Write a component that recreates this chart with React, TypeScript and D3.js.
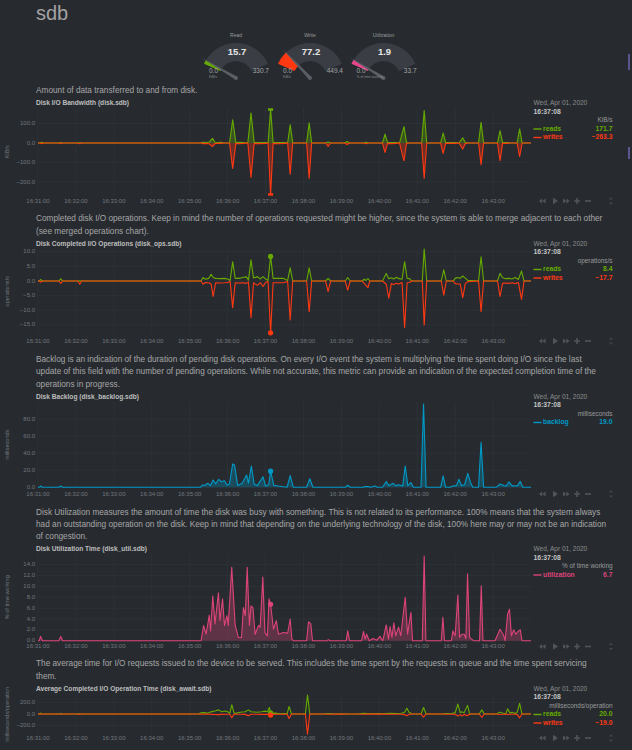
import React, { useEffect } from "react";
import * as d3 from "d3";

const FONT = "'Liberation Sans', Arial, Helvetica, sans-serif";
const BG = "#272b30";
const GREEN = "#66aa00";
const RED = "#fe3912";
const BLUE = "#0099c6";
const PINK = "#dd4477";

// seconds after 16:31:00
const START = new Date(2020, 3, 1, 16, 31, 0).getTime();
const END_SEC = 780;
const HOVER_SEC = 368;

// --- Disk I/O Bandwidth (KiB/s)
const bwTime = [
  0, 3, 6, 9, 33, 36, 39, 63, 66, 69,
  258, 261, 266, 271, 276, 280, 285, 290, 294,
  303, 308, 313, 318, 325, 332, 337, 342, 352, 360, 364,
  368, 372, 380, 390, 395, 399, 403, 425, 429, 433,
  455, 459, 463, 485, 489, 493, 515, 519, 523,
  545, 549, 553, 560, 566, 572, 579, 583, 587, 607, 611, 615,
  637, 641, 645, 652, 660, 666, 672, 676, 680, 697, 701, 705,
  727, 731, 735, 742, 748, 758, 762, 766, 780,
];
const bwReads = [
  0, 0, 4, 0, 0, 3, 0, 0, 1, 0,
  0, 4, 3, 5, 24, 4, 3, 4, 0,
  0, 119, 2, 4, 3, 0, 154, 3, 3, 2, 0,
  171.7, 3, 3, 2, 0, 94, 0, 0, 103, 0,
  0, 5, 0, 0, 8, 0, 0, 4, 0,
  0, 46, 3, 3, 2, 0, 84, 3, 0, 0, 166, 0,
  0, 51, 3, 3, 3, 0, 27, 3, 0, 0, 106, 0,
  0, 63, 3, 3, 0, 0, 72, 0, 0,
];
const bwWrites = [
  0, 0, -3, 0, 0, -2, 0, 0, -4, 0,
  0, -3, -2, -4, -18, -3, -2, -2, 0,
  0, -130, -2, -3, -2, 0, -176, -2, -3, -2, 0,
  -263.3, -2, -3, -2, 0, -160, 0, 0, -181, 0,
  0, -17, 0, 0, -8, 0, 0, -4, 0,
  0, -48, -2, -3, -2, 0, -91, -2, 0, 0, -181, 0,
  0, -53, -2, -2, -2, 0, -31, -3, 0, 0, -111, 0,
  0, -91, -2, -2, 0, 0, -69, 0, 0,
];

// --- Disk Completed I/O Operations (operations/s)
const opsTime = [
  0, 2, 4, 7, 33, 36, 39, 63, 66, 69,
  258, 261, 265, 270, 274, 277, 281, 288, 295, 300, 304,
  308, 312, 318, 324, 330, 333,
  337, 341, 347, 352, 356, 360, 364,
  368, 372, 380, 388, 395, 399, 403,
  425, 429, 433, 455, 459, 463, 486, 490, 494,
  513, 516, 519, 522, 525,
  545, 551, 555, 559, 563, 567, 571, 576, 580, 584, 588, 591,
  608, 611, 615, 638, 642, 646,
  657, 660, 664, 668, 672, 676, 680, 697, 701, 705,
  727, 731, 735, 740, 745, 750, 755, 760, 765, 769, 780,
];
const opsReads = [
  0, 0, 0.5, 0, 0, 0.7, 0, 0, 0.1, 0,
  0, 1.2, 0.6, 0.9, 2.3, 1.2, 0.9, 0.8, 0.9, 0.7, 0.2,
  6.6, 0.9, 0.9, 1.2, 1.4, 0.3,
  7.2, 1.0, 1.5, 0.7, 1.5, 0.7, 0.2,
  8.4, 0.9, 0.9, 0.9, 0.2, 4.5, 0,
  0, 4.5, 0, 0, 0.9, 0, 0, 1.2, 0,
  0, 0.6, 0.2, 0.8, 0,
  0, 2.6, 0.8, 1.1, 0.7, 1.3, 0.8, 0.6, 6.6, 0.9, 0.8, 0,
  0, 10.9, 0, 0, 3.8, 0,
  0, 0.9, 1.2, 0.9, 1.7, 1.0, 0.2, 0, 8.3, 0,
  0, 2.6, 1.1, 0.8, 0.9, 0.7, 1.2, 0.5, 3.4, 0, 0,
];
const opsWrites = [
  0, 0, -0.4, 0, 0, -0.8, 0, 0, -1.1, 0,
  0, -1.1, -0.5, -0.6, -1.0, -5.3, -0.6, -0.7, -0.6, -0.5, -0.2,
  -9.1, -0.6, -0.7, -0.6, -0.8, -0.3,
  -12.5, -0.6, -1.5, -0.6, -1.9, -0.5, -0.2,
  -17.7, -0.6, -0.6, -0.6, -0.2, -13.3, 0,
  0, -10.5, 0, 0, -3.6, 0, 0, -3.1, 0,
  0, -0.8, -1.5, -2.3, 0,
  0, -1.1, -5.9, -0.9, -1.2, -0.8, -1.0, -0.5, -15.9, -0.6, -0.5, 0,
  0, -15, 0, 0, -4.8, 0,
  0, -0.9, -1.0, -1.0, -5.7, -0.9, -0.2, 0, -10.5, 0,
  0, -5.3, -0.8, -0.7, -0.8, -0.6, -0.9, -0.5, -6.3, 0, 0,
];

// --- Disk Backlog (milliseconds)
const blTime = [
  0, 2, 4, 7, 33, 36, 39,
  257, 260, 264, 269, 273, 277, 281, 286, 290, 295,
  299, 303, 308, 311, 316, 323, 330, 333, 337.5, 342,
  347, 356, 360, 365, 368, 373, 380, 394, 399, 404,
  425, 430, 435, 486, 490, 494, 515, 517, 522, 527,
  533, 537, 545, 551, 555, 562, 566, 571, 577, 581,
  585, 590, 594, 606, 610, 614, 637, 641, 645, 652,
  656, 662, 666, 670, 675, 680, 684, 688, 697, 701,
  705, 725, 731, 737, 741, 745, 750, 755, 759, 763,
  767, 780,
];
const blValue = [
  0, 0, 1.5, 0, 0, 1.5, 0,
  0, 2.7, 2.5, 4.7, 2, 8.6, 4, 9.4, 6.7, 7.8,
  2.7, 4, 27.5, 26, 2, 4.7, 14.5, 5, 25, 4,
  2, 12.5, 1.5, 3, 19, 2.5, 1.5, 0, 13.7, 0,
  0, 10.2, 0, 0, 2.4, 0, 0, 1, 0.8, 0,
  1.5, 0, 0, 6.7, 2, 4.7, 2, 3, 1.5, 25,
  2, 5.5, 0, 0, 98, 0, 0, 13.3, 0, 0,
  1.5, 2, 9.4, 2, 3, 16.5, 6, 0, 0, 53,
  0, 0, 3.9, 2, 1.5, 6.3, 2, 1.5, 2, 7,
  0, 0,
];

// --- Disk Utilization Time (% of time working)
const utTime = [
  0, 2, 4, 7, 33, 36, 39,
  258, 262, 266, 271, 273, 276.5, 280, 285.5, 288, 292,
  295, 299, 301, 306.5, 312, 317, 322, 325, 328, 331,
  334.5, 337, 340, 343.5, 349, 351.5, 355.7, 359, 363, 365.5,
  368, 372.5, 377, 380.5, 388, 395, 399, 401.6, 404,
  425, 428, 431.6, 434.3, 457, 459.6, 462, 487.6, 490, 493,
  512, 515, 517.6, 520, 524, 530, 536, 541, 545.6, 551,
  554.6, 557, 560, 563, 566, 570.4, 574, 581, 584.7, 590,
  592.6, 608, 611, 613.7, 638, 640.6, 643, 654, 656.4, 660,
  664.3, 667, 670.7, 674.4, 677, 679.6, 682.8, 689, 698.6, 701.3,
  704, 723, 731, 736.6, 739, 743, 746, 749, 752.5, 756,
  760.4, 763, 765.7, 780,
];
const utValue = [
  0, 0, 0.8, 0, 0, 0.8, 0,
  0, 2.8, 1.2, 4.7, 1.8, 8.2, 3.1, 8.8, 3.7, 7.7,
  2.8, 4.6, 2.8, 13.5, 2.8, 0.6, 0.6, 6.1, 4.6, 13.5,
  2.8, 6.4, 6.1, 1.2, 2.8, 2.5, 11.7, 1.5, 0.9, 7.7,
  6.7, 2.1, 3.7, 1.2, 1.5, 1.4, 4.0, 0.3, 0,
  0, 3.5, 3.1, 0, 0, 0.2, 0, 0, 1.8, 0,
  0, 1.7, 0.3, 1.2, 0, 0.4, 0.1, 0.8, 0, 2.9,
  0.3, 2.6, 0.6, 3.3, 0.9, 2.5, 0.9, 8.0, 1.2, 5.2,
  0, 0, 15.6, 0, 0, 4.3, 0, 0, 1.8, 0.9,
  8.4, 0.6, 1.2, 1.2, 0.4, 12.3, 0.6, 0, 0, 10.1,
  0, 0, 2.1, 1.0, 0, 4.9, 5.8, 0.9, 2.0, 1.2,
  1.8, 2.0, 0, 0,
];

// --- Average Completed I/O Operation Time (milliseconds/operation)
const awTime = [
  0, 2, 4, 7, 33, 36, 39, 63, 66, 69,
  254, 257, 264, 268, 272, 275, 280, 285.5, 290.7, 296,
  301, 303.5, 306.6, 310, 312, 320, 327.7, 333, 337, 346,
  354, 359, 363, 366, 368, 371, 375, 383, 391, 394,
  397.3, 401, 423, 426.4, 430,
  450, 460, 470, 480, 490, 505, 515, 525, 536, 545,
  557, 567, 575, 580, 583.6, 587, 592, 606, 610, 614,
  640, 645, 655, 660, 664.3, 668, 670.7, 674, 679.6, 683,
  698, 702.3, 706, 725, 731, 736, 740, 743, 747, 750,
  755, 758, 762, 765.7, 780,
];
const awReads = [
  0, 0, 15, 0, 0, 8, 0, 0, 5, 0,
  0, 20, 24, 14, 30, 42, 54, 72, 40, 52,
  36, 10, 162, 20, 12, 30, 40, 72, 40, 30,
  40, 50, 40, 114, 20, 12, 15, 6, 8, 0,
  132, 0, 0, 330, 0,
  0, 8, 0, 6, 0, 0, 12, 6, 10, 4,
  12, 8, 14, 30, 102, 30, 0, 0, 114, 0,
  0, 8, 14, 20, 174, 24, 40, 20, 150, 0,
  0, 72, 0, 0, 30, 12, 0, 90, 12, 30,
  10, 30, 186, 0, 0,
];
const awWrites = [
  0, 0, -5, 0, 0, -3, 0, 0, -6, 0,
  0, -3, -4, -2, -5, -6, -8, -10, -6, -5,
  -4, -8, -66, -5, -3, -5, -6, -30, -5, -4,
  -6, -5, -6, -20, -19, -10, -5, -3, -4, 0,
  -78, 0, 0, -350, 0,
  0, -3, 0, -2, 0, 0, -3, -2, -2, -2,
  -4, -3, -4, -10, -30, -6, 0, 0, -54, 0,
  0, -3, -4, -5, -36, -10, -36, -6, -30, 0,
  0, -60, 0, 0, -8, -5, 0, -8, -4, -5,
  -3, -6, -66, 0, 0,
];

// gauges
const gaugeTitles = ["Read", "Write", "Utilization"];
const gaugeValues = [15.7, 77.2, 1.9];
const gaugeMax = [330.7, 449.4, 33.7];
const gaugeUnits = ["KiB/s", "KiB/s", "% of time working"];
const gaugeColors = [GREEN, RED, "#e8468a"];

const x = d3
  .scaleTime()
  .domain([new Date(START), new Date(START + END_SEC * 1000)])
  .range([38, 531]);
const xs = (s: number) => x(new Date(START + s * 1000));
const minuteTicks = d3.timeMinute.range(new Date(START), new Date(START + END_SEC * 1000));
const fmtTime = d3.timeFormat("%H:%M:%S");
const fmt1 = d3.format(".1f");

function Gauge({ cx, cy, i }: any) {
  const a0 = (-66 * Math.PI) / 180;
  const a1 = (66 * Math.PI) / 180;
  const ang = d3.scaleLinear().domain([0, gaugeMax[i]]).range([a0, a1]);
  const arc = d3.arc().innerRadius(17).outerRadius(35);
  const va = ang(gaugeValues[i]);
  const len = 40;
  const tx = len * Math.sin(va);
  const ty = -len * Math.cos(va);
  const px = Math.cos(va) * 1.7;
  const py = Math.sin(va) * 1.7;
  return (
    <g transform={`translate(${cx},${cy})`}>
      <text x={0} y={-41} textAnchor="middle" fontSize={5} fill="#9a9a9a">
        {gaugeTitles[i]}
      </text>
      <path d={arc({ startAngle: a0, endAngle: a1 } as any) as string} fill="#3a3e44" />
      <path d={arc({ startAngle: a0, endAngle: va } as any) as string} fill={gaugeColors[i]} />
      <path d={`M${px},${py}L${tx},${ty}L${-px},${-py}Z`} fill="#5a5f65" />
      <circle r={2} fill="#5a5f65" />
      <text x={1} y={-26} textAnchor="middle" dominantBaseline="middle" fontSize={9.5} fontWeight="bold" fill="#e6e6e6">
        {fmt1(gaugeValues[i])}
      </text>
      <text x={-27} y={-7} dominantBaseline="middle" fontSize={6.5} fill="#a5a5a5">
        {fmt1(0)}
      </text>
      <text x={33} y={-7} textAnchor="end" dominantBaseline="middle" fontSize={6.5} fill="#a5a5a5">
        {fmt1(gaugeMax[i])}
      </text>
      <text x={-27} y={-0.5} dominantBaseline="middle" fontSize={3.4} fill="#8a8a8a">
        {gaugeUnits[i]}
      </text>
    </g>
  );
}

function Controls({ cy }: any) {
  const c = "#50555b";
  return (
    <g transform={`translate(0,${cy})`} fill={c}>
      <path d="M539,0l3.2,-2.6v5.2z M542.4,0l3.2,-2.6v5.2z" />
      <path d="M553,-3.2l5,3.2l-5,3.2z" />
      <path d="M563,-2.6l3.2,2.6l-3.2,2.6z M566.4,-2.6l3.2,2.6l-3.2,2.6z" />
      <path d="M574,-0.8h6v1.6h-6z M576.2,-3h1.6v6h-1.6z" />
      <path d="M585,-0.8h6v1.6h-6z" />
      <path d="M611,-4l2,2.4h-4z M611,4l2,-2.4h-4z" fill="#3f444a" />
    </g>
  );
}

function Chart({ T, desc, title, unit, yLabel, yDomain, yRange, ticks, series, area, rectMarker, xLabelY }: any) {
  const y = d3.scaleLinear().domain(yDomain).range(yRange);
  const [yb, yt] = yRange;
  const y0 = y(Math.max(0, yDomain[0]));
  return (
    <g>
      {desc.map((d: string, i: number) => (
        <text key={i} x={36} y={T - 12.5 - (desc.length - 1 - i) * 12.3} dominantBaseline="middle" fontSize={8.25} fill="#a6a6a6">
          {d}
        </text>
      ))}
      <text x={36} y={T} dominantBaseline="middle" fontSize={6.6} fontWeight="bold" fill="#bdbdbd">
        {title}
      </text>
      {minuteTicks.map((m, i) => (
        <line key={"v" + i} x1={x(m)} x2={x(m)} y1={yt} y2={yb} stroke="#2f3439" strokeWidth={0.8} />
      ))}
      {ticks.map((t: number, i: number) => (
        <line key={"h" + i} x1={38} x2={531} y1={y(t)} y2={y(t)} stroke="#2f3439" strokeWidth={0.8} />
      ))}
      {ticks.map((t: number, i: number) => (
        <text key={"t" + i} x={35} y={y(t)} textAnchor="end" dominantBaseline="middle" fontSize={6} fill="#72777c">
          {fmt1(t)}
        </text>
      ))}
      <text
        transform={`translate(8,${(yt + yb) / 2}) rotate(-90)`}
        textAnchor="middle"
        dominantBaseline="middle"
        fontSize={5.6}
        fill="#72777c"
      >
        {yLabel}
      </text>
      {series.map((s: any, k: number) => {
        const pts = s.time.map((t: number, i: number) => [t, s.values[i]]);
        const line = d3.line().x((d: any) => xs(d[0])).y((d: any) => y(d[1]));
        const ar = d3.area().x((d: any) => xs(d[0])).y0(y0).y1((d: any) => y(d[1]));
        return (
          <g key={k}>
            {area && <path d={ar(pts as any) as string} fill={s.color} fillOpacity={0.3} />}
            <path d={line(pts as any) as string} fill="none" stroke={s.color} strokeWidth={1.1} strokeLinejoin="round" />
          </g>
        );
      })}
      {series.map((s: any, k: number) => {
        const v = s.values[s.time.indexOf(HOVER_SEC)];
        const cx = xs(HOVER_SEC);
        return rectMarker ? (
          <rect key={"m" + k} x={cx - 2.5} y={y(v) - 1.3} width={5} height={2.6} fill={s.color} />
        ) : (
          <circle key={"m" + k} cx={cx} cy={y(v)} r={2.6} fill={s.color} />
        );
      })}
      {minuteTicks.map((m, i) => (
        <text key={"x" + i} x={x(m)} y={xLabelY} textAnchor="middle" dominantBaseline="middle" fontSize={6} fill="#72777c">
          {fmtTime(m)}
        </text>
      ))}
      <text x={533.5} y={T} dominantBaseline="middle" fontSize={6.5} fill="#8c8c8c">
        Wed, Apr 01, 2020
      </text>
      <text x={533.5} y={T + 8.5} dominantBaseline="middle" fontSize={6.8} fontWeight="bold" fill="#c4c4c4">
        {fmtTime(new Date(START + HOVER_SEC * 1000))}
      </text>
      <text x={612.5} y={T + 17} textAnchor="end" dominantBaseline="middle" fontSize={6.4} fill="#9a9a9a">
        {unit}
      </text>
      {series.map((s: any, k: number) => {
        const yy = T + 25.5 + k * 8.5;
        const v = s.values[s.time.indexOf(HOVER_SEC)];
        return (
          <g key={"l" + k}>
            <rect x={533.5} y={yy - 0.7} width={8} height={1.4} fill={s.color} />
            <text x={543} y={yy} dominantBaseline="middle" fontSize={6.8} fontWeight="bold" fill={s.color}>
              {s.name}
            </text>
            <text x={612.5} y={yy} textAnchor="end" dominantBaseline="middle" fontSize={6.8} fontWeight="bold" fill={s.color}>
              {fmt1(v)}
            </text>
          </g>
        );
      })}
      <Controls cy={xLabelY} />
    </g>
  );
}

export default function App() {
  useEffect(() => {
    document.body.style.margin = "0";
    document.body.style.background = BG;
  }, []);

  return (
    <svg
      width={632}
      height={750}
      style={{ position: "absolute", left: 0, top: 0, background: BG, fontFamily: FONT }}
    >
      <rect width={632} height={750} fill={BG} />
      <text x={36} y={15} dominantBaseline="middle" fontSize={20} fill="#a2a2a2">
        sdb
      </text>
      {[236, 310, 383.5].map((cx, i) => (
        <Gauge key={i} cx={cx} cy={78} i={i} />
      ))}
      <rect x={628} y={54} width={2} height={16} fill="#5a558c" />
      <rect x={628} y={147} width={2} height={12} fill="#5a558c" />

      <Chart
        T={103.5}
        desc={["Amount of data transferred to and from disk."]}
        title="Disk I/O Bandwidth (disk.sdb)"
        unit="KiB/s"
        yLabel="KiB/s"
        yDomain={[-270, 180]}
        yRange={[195.7, 107.9]}
        ticks={[100, 0, -100, -200]}
        area
        rectMarker
        xLabelY={201}
        series={[
          { name: "reads", color: GREEN, time: bwTime, values: bwReads },
          { name: "writes", color: RED, time: bwTime, values: bwWrites },
        ]}
      />
      <Chart
        T={244}
        desc={[
          "Completed disk I/O operations. Keep in mind the number of operations requested might be higher, since the system is able to merge adjacent to each other",
          "(see merged operations chart).",
        ]}
        title="Disk Completed I/O Operations (disk_ops.sdb)"
        unit="operations/s"
        yLabel="operations/s"
        yDomain={[-18, 11]}
        yRange={[333.7, 248.8]}
        ticks={[10, 5, 0, -5, -10, -15]}
        xLabelY={341}
        series={[
          { name: "reads", color: GREEN, time: opsTime, values: opsReads },
          { name: "writes", color: RED, time: opsTime, values: opsWrites },
        ]}
      />
      <Chart
        T={397}
        desc={[
          "Backlog is an indication of the duration of pending disk operations. On every I/O event the system is multiplying the time spent doing I/O since the last",
          "update of this field with the number of pending operations. While not accurate, this metric can provide an indication of the expected completion time of the",
          "operations in progress.",
        ]}
        title="Disk Backlog (disk_backlog.sdb)"
        unit="milliseconds"
        yLabel="milliseconds"
        yDomain={[0, 100]}
        yRange={[487.3, 402.3]}
        ticks={[80, 60, 40, 20, 0]}
        area
        xLabelY={494}
        series={[{ name: "backlog", color: BLUE, time: blTime, values: blValue }]}
      />
      <Chart
        T={549.5}
        desc={[
          "Disk Utilization measures the amount of time the disk was busy with something. This is not related to its performance. 100% means that the system always",
          "had an outstanding operation on the disk. Keep in mind that depending on the underlying technology of the disk, 100% here may or may not be an indication",
          "of congestion.",
        ]}
        title="Disk Utilization Time (disk_util.sdb)"
        unit="% of time working"
        yLabel="% of time working"
        yDomain={[0, 16]}
        yRange={[640.7, 553.8]}
        ticks={[14, 12, 10, 8, 6, 4, 2, 0]}
        area
        xLabelY={646.5}
        series={[{ name: "utilization", color: PINK, time: utTime, values: utValue }]}
      />
      <Chart
        T={689}
        desc={[
          "The average time for I/O requests issued to the device to be served. This includes the time spent by the requests in queue and the time spent servicing",
          "them.",
        ]}
        title="Average Completed I/O Operation Time (disk_await.sdb)"
        unit="milliseconds/operation"
        yLabel="milliseconds/operation"
        yDomain={[-360, 340]}
        yRange={[734.7, 694.5]}
        ticks={[200, 0, -200]}
        xLabelY={738}
        series={[
          { name: "reads", color: GREEN, time: awTime, values: awReads },
          { name: "writes", color: RED, time: awTime, values: awWrites },
        ]}
      />
    </svg>
  );
}
